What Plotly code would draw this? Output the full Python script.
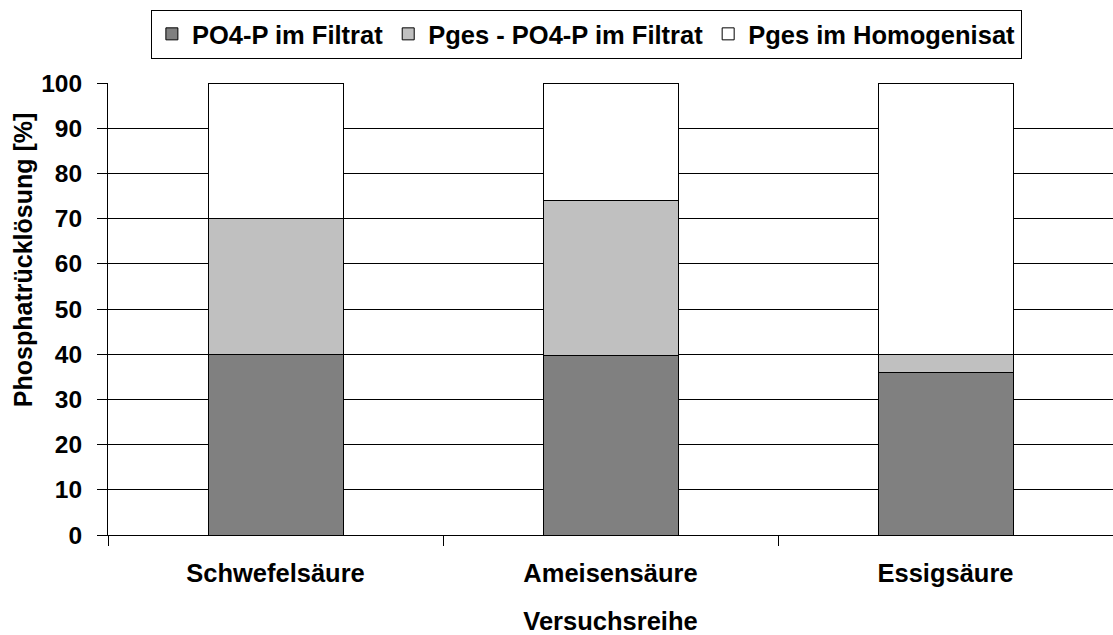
import plotly.graph_objects as go

categories = ["Schwefelsäure", "Ameisensäure", "Essigsäure"]
po4_filtrat = [40.0, 39.8, 36.0]
pges_minus_po4 = [30.0, 34.3, 4.0]
pges_homogenisat = [30.0, 25.9, 60.0]

series_names = ["PO4-P im Filtrat", "Pges - PO4-P im Filtrat", "Pges im Homogenisat"]
colors = ["#808080", "#C0C0C0", "#FFFFFF"]
y_title = "Phosphatrücklösung [%]"
x_title = "Versuchsreihe"

FONT = "Liberation Sans, Arial, sans-serif"

fig = go.Figure()
for name, vals, col in zip(series_names, [po4_filtrat, pges_minus_po4, pges_homogenisat], colors):
    fig.add_trace(go.Bar(
        x=categories, y=vals, name=name,
        marker=dict(color=col, line=dict(color="#000000", width=1)),
    ))

fig.update_layout(
    barmode="stack",
    bargap=0.597,
    width=1113, height=635,
    margin=dict(l=108, r=0, t=83, b=100),
    plot_bgcolor="white", paper_bgcolor="white",
    font=dict(family=FONT, color="#000000", size=25, weight="bold"),
    legend=dict(
        orientation="h", x=0.476, y=1.162, xanchor="center", yanchor="top",
        bordercolor="#000000", borderwidth=1, bgcolor="white",
        font=dict(family=FONT, size=25.5, color="#000000", weight="bold"),
        traceorder="normal", itemwidth=30,
    ),
    showlegend=True,
)
fig.update_xaxes(
    showline=True, linecolor="#000000", linewidth=1,
    ticks="outside", ticklen=10, tickcolor="#000000", tickson="boundaries",
    tickfont=dict(size=25.5, family=FONT, weight="bold"),
    ticklabelstandoff=15,
    showgrid=False,
    title=dict(text=x_title, font=dict(size=25.5, family=FONT, weight="bold"), standoff=32),
)
fig.update_yaxes(
    range=[0, 100], dtick=10,
    showline=True, linecolor="#000000", linewidth=1,
    ticks="outside", ticklen=10, tickcolor="#000000",
    tickfont=dict(size=24.5, family=FONT, weight="bold"),
    ticklabelstandoff=10,
    showgrid=True, gridcolor="#000000", gridwidth=1,
    zeroline=False,
)
fig.add_annotation(
    text=y_title, textangle=-90, showarrow=False,
    xref="paper", yref="paper", x=-0.0846, y=0.608,
    xanchor="center", yanchor="middle",
    font=dict(size=25, family=FONT, color="#000000", weight="bold"),
)

fig.write_html("out.html")
